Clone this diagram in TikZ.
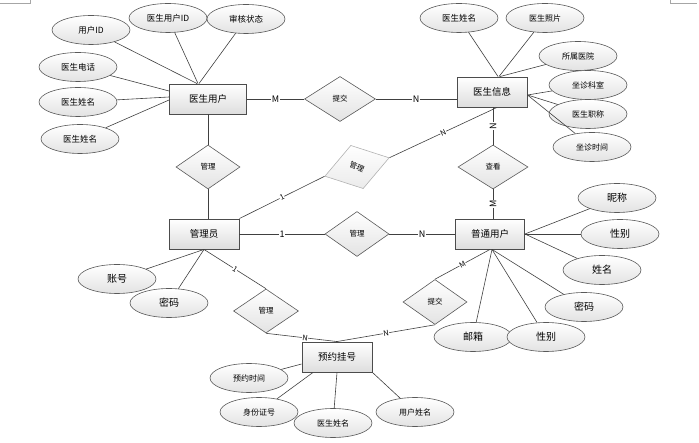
\documentclass[tikz,border=0pt]{standalone}
\usepackage{fontspec}
\setmainfont{Noto Sans CJK SC}
\usetikzlibrary{shapes.geometric,calc}
\tikzset{
  ent/.style={rectangle, draw=black!70, line width=0.9pt, top color=white, bottom color=black!13,
    minimum width=70pt, minimum height=30pt, inner sep=0pt, font=\fontsize{9.5}{10}\selectfont},
  attr/.style={ellipse, draw=black!65, line width=0.6pt, top color=white, bottom color=black!11,
    minimum width=78pt, minimum height=29pt, inner sep=0pt, font=\fontsize{8.5}{9}\selectfont},
  attrbig/.style={attr, font=\fontsize{10}{10}\selectfont},
  attrsmall/.style={attr, font=\fontsize{8}{8}\selectfont},
  rel/.style={diamond, draw=black!65, line width=0.6pt, top color=white, bottom color=black!11,
    minimum width=64pt, minimum height=44pt, inner sep=0pt, font=\fontsize{7.5}{8}\selectfont},
  ln/.style={draw=black!75, line width=0.6pt},
  lab/.style={fill=white, inner sep=0.6pt, font=\fontsize{9}{9}\selectfont},
  slab/.style={fill=white, inner sep=0.4pt, sloped, font=\fontsize{7.5}{8}\selectfont},
  corner/.style={draw=black!35, line width=0.6pt}
}
\begin{document}
\begin{tikzpicture}[x=1pt,y=-1pt]
\useasboundingbox (0,0) rectangle (699,443);
\draw[corner] (0,3) -- (30,3) -- (30,0);
\draw[corner] (670,0) -- (670,3) -- (697,3);

% entities
\node[ent, minimum width=77pt] (du) at (208,99) {医生用户};
\node[ent] (di) at (492,92) {医生信息};
\node[ent] (gly) at (204,234) {管理员};
\node[ent, minimum width=69pt] (pu) at (490,234) {普通用户};
\node[ent] (yy) at (337,357) {预约挂号};

% relationships
\node[rel, minimum width=71pt, minimum height=45pt] (tj1) at (340,99) {提交};
\node[rel] (gl1) at (208,167) {管理};
\node[rel, minimum width=70pt] (ck) at (493,167) {查看};
\node[rel, minimum height=45pt] (gl2) at (357,234) {管理};
\node[rel, rotate=16, draw=black!30, bottom color=black!8, minimum width=67pt, minimum height=45pt] (gl3) at (357,167) {\rotatebox{-40}{管理}};
\node[rel, minimum width=65pt] (gl4) at (266,311) {管理};
\node[rel, minimum height=45pt] (tj2) at (435,302) {提交};

% attributes of 医生用户
\node[attr] (a1) at (91,30) {用户ID};
\node[attr] (a2) at (168,18) {医生用户ID};
\node[attr] (a3) at (246,19) {审核状态};
\node[attr] (a4) at (78,67) {医生电话};
\node[attr] (a5) at (78,102) {医生姓名};
\node[attr] (a6) at (80,139) {医生姓名};

% attributes of 医生信息
\node[attr] (b1) at (459,18) {医生姓名};
\node[attrsmall] (b2) at (545,18) {医生照片};
\node[attrsmall] (b3) at (578,56) {所属医院};
\node[attrsmall] (b4) at (588,85) {坐诊科室};
\node[attrsmall] (b5) at (588,114) {医生职称};
\node[attrsmall] (b6) at (592,147) {坐诊时间};

% attributes of 管理员
\node[attrbig] (c1) at (117,279) {账号};
\node[attrbig] (c2) at (169,303) {密码};

% attributes of 普通用户
\node[attrbig] (d1) at (617,198) {昵称};
\node[attrbig] (d2) at (620,234) {性别};
\node[attrbig] (d3) at (602,270) {姓名};
\node[attrbig] (d4) at (584,307) {密码};
\node[attrbig] (d5) at (473,337) {邮箱};
\node[attrbig] (d6) at (546,337) {性别};

% attributes of 预约挂号
\node[attrsmall] (e1) at (249,378) {预约时间};
\node[attrsmall] (e2) at (259,412) {身份证号};
\node[attrsmall] (e3) at (333,423) {医生姓名};
\node[attrsmall] (e4) at (415,412) {用户姓名};

% attribute connectors
\draw[ln] (a1) -- ([xshift=-11pt]du.north);
\draw[ln] (a2) -- ([xshift=-10pt]du.north);
\draw[ln] (a3) -- ([xshift=-9pt]du.north);
\draw[ln] (a4) -- ([yshift=8pt]du.west);
\draw[ln] (a5) -- ([yshift=2pt]du.west);
\draw[ln] (a6) -- ([yshift=-1pt]du.west);

\draw[ln] (b1) -- ([xshift=6pt]di.north);
\draw[ln] (b2) -- ([xshift=7pt]di.north);
\draw[ln] (b3) -- ([xshift=8pt]di.north);
\draw[ln] (b4) -- ([yshift=-3pt]di.east);
\draw[ln] (b5) -- ([yshift=-3pt]di.east);
\draw[ln] (b6) -- ([yshift=-3pt]di.east);

\draw[ln] (c1) -- (gly.south);
\draw[ln] (c2) -- (gly.south);

\draw[ln] (d1) -- (pu.east);
\draw[ln] (d2) -- (pu.east);
\draw[ln] (d3) -- (pu.east);
\draw[ln] (d4) -- ([xshift=2pt]pu.south);
\draw[ln] (d5) -- ([xshift=2pt]pu.south);
\draw[ln] (d6) -- ([xshift=2pt]pu.south);

\draw[ln] (e1) -- ([yshift=-7pt]yy.west);
\draw[ln] (e2) -- ([xshift=-24pt]yy.south);
\draw[ln] (e3) -- (yy.south);
\draw[ln] (e4) -- (yy.south east);

% relationship connectors
\draw[ln] (du) -- node[lab]{M} (tj1);
\draw[ln] (tj1.east) -- node[lab]{N} (tj1.east -| di.west);
\draw[ln] (du) -- (gl1);
\draw[ln] (gl1.south) -- (gl1.south |- gly.north);
\draw[ln] (gly.north east) -- node[slab]{1} (gl3.west);
\draw[ln] (gl3.east) -- node[slab]{N} ([xshift=5pt]di.south);
\draw[ln] (ck.north) -- node[lab, rotate=90]{N} (ck.north |- di.south);
\draw[ln] (ck.south) -- node[lab, rotate=90]{M} (ck.south |- pu.north);
\draw[ln] (gly) -- node[lab]{1} (gl2);
\draw[ln] (gl2) -- node[lab]{N} (pu);
\draw[ln] (pu.south) -- node[slab]{M} (tj2.north);
\draw[ln] (tj2.south) -- node[slab]{N} (yy.north);
\draw[ln] (gly.south) -- node[slab]{1} (gl4.north);
\draw[ln] (gl4.south) -- node[slab, pos=0.55]{N} (yy.north);
\end{tikzpicture}
\end{document}
